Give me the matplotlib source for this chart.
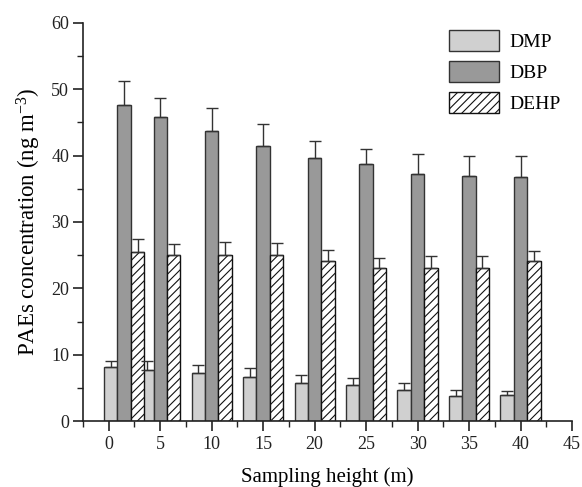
import numpy as np
import matplotlib
matplotlib.use("Agg")
import matplotlib.pyplot as plt
from matplotlib.ticker import MultipleLocator

# sampling heights (group 0 sits a bit right of the axis origin in the original)
heights = [0, 5, 10, 15, 20, 25, 30, 35, 40]
group_pos = [1.5, 5, 10, 15, 20, 25, 30, 35, 40]

dmp = [8.1, 7.7, 7.2, 6.6, 5.8, 5.4, 4.6, 3.8, 3.9]
dmp_err = [1.0, 1.3, 1.3, 1.4, 1.2, 1.1, 1.1, 0.8, 0.6]
dbp = [47.6, 45.8, 43.7, 41.4, 39.7, 38.7, 37.2, 37.0, 36.8]
dbp_err = [3.6, 2.9, 3.5, 3.3, 2.5, 2.3, 3.1, 3.0, 3.2]
dehp = [25.5, 25.1, 25.1, 25.1, 24.1, 23.1, 23.1, 23.1, 24.1]
dehp_err = [1.9, 1.6, 1.9, 1.8, 1.7, 1.5, 1.7, 1.8, 1.5]

plt.rcParams['font.family'] = ['Liberation Serif', 'DejaVu Serif']
plt.rcParams['mathtext.fontset'] = 'custom'
plt.rcParams['mathtext.rm'] = 'Liberation Serif'
plt.rcParams['mathtext.default'] = 'regular'
plt.rcParams['hatch.linewidth'] = 0.8

fig = plt.figure(figsize=(5.82, 4.87), dpi=100)
ax = fig.add_axes([0.1426, 0.1355, 0.8402, 0.8173])

w = 1.3
x = np.array(group_pos)
err_kw = dict(ecolor='#333333', elinewidth=1.0, capsize=4, capthick=1.0)

ax.bar(x - w, dmp, w, color='#d0d0d0', edgecolor='#333333', linewidth=1.0,
       yerr=[np.zeros(len(dmp)), dmp_err], error_kw=err_kw, label='DMP')
ax.bar(x, dbp, w, color='#999999', edgecolor='#333333', linewidth=1.0,
       yerr=[np.zeros(len(dbp)), dbp_err], error_kw=err_kw, label='DBP')
ax.bar(x + w, dehp, w, color='white', edgecolor='#111111', linewidth=1.0, hatch='////',
       yerr=[np.zeros(len(dehp)), dehp_err], error_kw=err_kw, label='DEHP')

ax.set_xlim(-2.5, 45)
ax.set_ylim(0, 60)
ax.xaxis.set_major_locator(MultipleLocator(5))
ax.xaxis.set_minor_locator(MultipleLocator(2.5))
ax.yaxis.set_major_locator(MultipleLocator(10))
ax.yaxis.set_minor_locator(MultipleLocator(5))

for s in ['top', 'right']:
    ax.spines[s].set_visible(False)
for s in ['left', 'bottom']:
    ax.spines[s].set_linewidth(1.2)
    ax.spines[s].set_color('#222222')

ax.tick_params(which='major', direction='out', length=7, width=1.2, labelsize=13,
               colors='#222222', pad=3)
ax.tick_params(which='minor', direction='out', length=4, width=1.0, colors='#222222')
ax.tick_params(axis='x', pad=4)

ax.set_xlabel('Sampling height (m)', fontsize=15, labelpad=10)
ax.set_ylabel('PAEs concentration (ng m$^{-3}$)', fontsize=16.5, labelpad=6)

ax.legend(loc='upper left', bbox_to_anchor=(0.748, 0.983), frameon=False, fontsize=14,
          borderpad=0, borderaxespad=0,
          handlelength=2.6, handleheight=1.3, labelspacing=0.5, handletextpad=0.5)

fig.savefig('out.png', dpi=100)
